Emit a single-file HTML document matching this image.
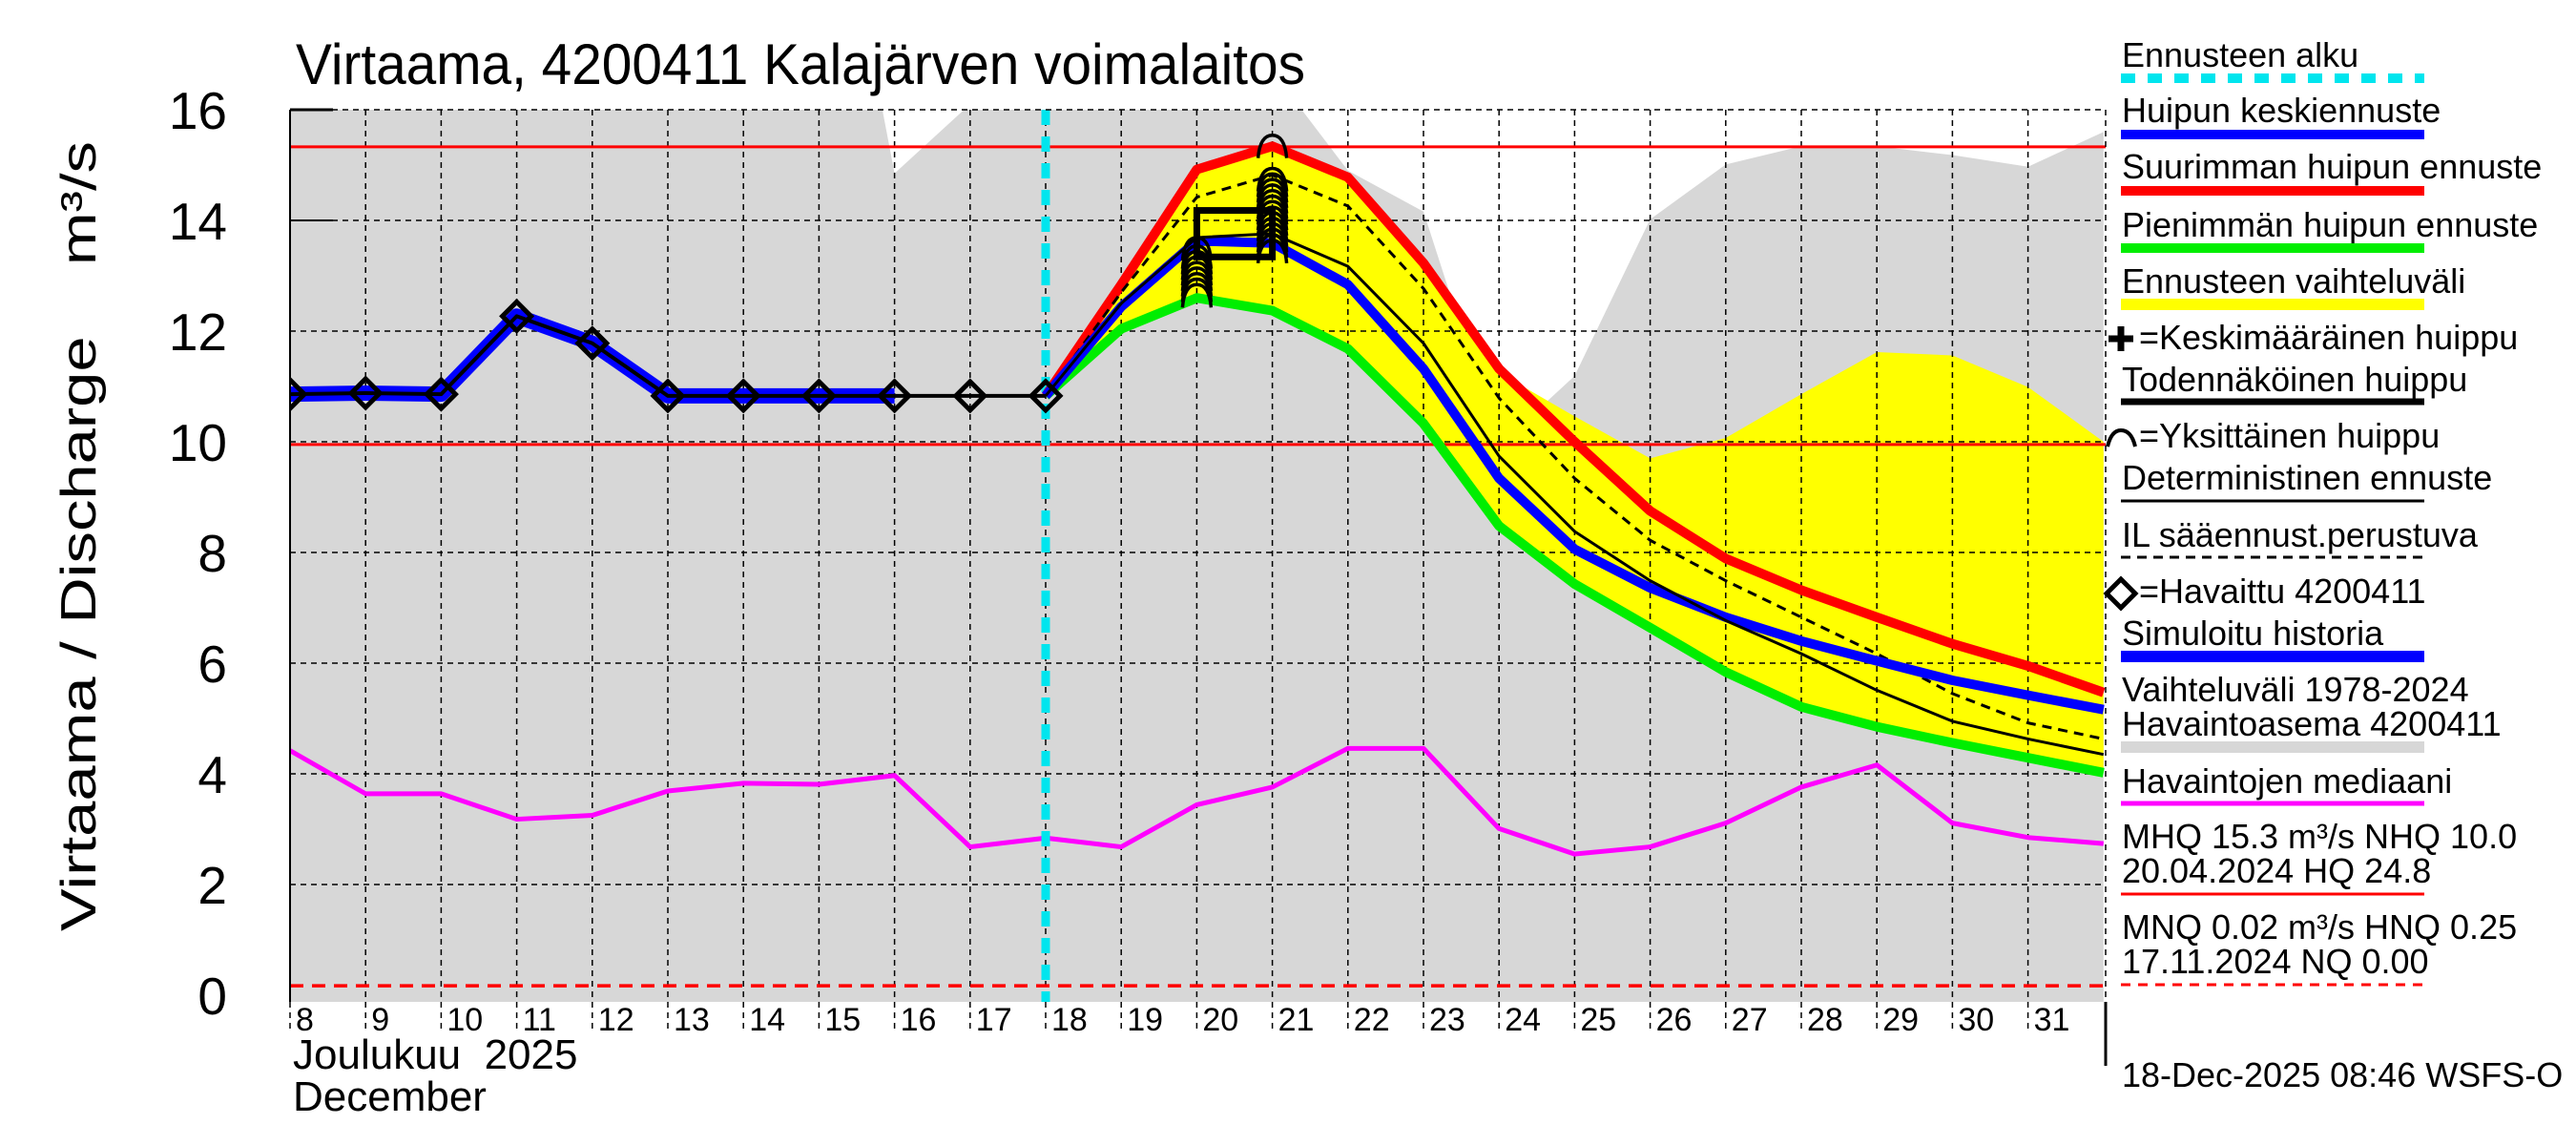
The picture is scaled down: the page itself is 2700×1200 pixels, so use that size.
<!DOCTYPE html>
<html><head><meta charset="utf-8"><style>
html,body{margin:0;padding:0;background:#fff}
svg{display:block}
text{font-family:"Liberation Sans",sans-serif;fill:#000;white-space:pre}
</style></head><body>
<svg id="chart" width="2700" height="1200" viewBox="0 0 2700 1200" xmlns="http://www.w3.org/2000/svg" xml:space="preserve">
<text x="310" y="88" font-size="60" textLength="1058" lengthAdjust="spacingAndGlyphs">Virtaama, 4200411 Kalajärven voimalaitos</text>
<text transform="translate(100,562) rotate(-90)" text-anchor="middle" font-size="52" textLength="828" lengthAdjust="spacingAndGlyphs">Virtaama / Discharge    m³/s</text>
<g id="plot"></g>
<g id="axes"></g>
<g id="legend"></g>
</svg>
<script>
const days = [8,9,10,11,12,13,14,15,16,17,18,19,20,21,22,23,24,25,26,27,28,29,30,31,32];
const yTicks = [0,2,4,6,8,10,12,14,16];
const dayLabels = ["8","9","10","11","12","13","14","15","16","17","18","19","20","21","22","23","24","25","26","27","28","29","30","31"];
const obsDays = [8,9,10,11,12,13,14,15,16,17,18];
const observed = [10.86,10.88,10.86,12.27,11.78,10.83,10.83,10.83,10.83,10.83,10.83];
const simDays = [8,9,10,11,12,13,14,15,16];
const simulated = [10.86,10.88,10.86,12.27,11.78,10.83,10.83,10.83,10.83];
const fcDays = [18,19,20,21,22,23,24,25,26,27,28,29,30,31,32];
const fcMax = [10.83,12.84,14.92,15.34,14.78,13.23,11.32,10.0,8.75,7.89,7.32,6.83,6.35,5.95,5.47];
const fcMean = [10.83,12.44,13.63,13.59,12.84,11.32,9.34,8.06,7.36,6.83,6.40,6.04,5.69,5.42,5.16];
const fcMin = [10.83,12.04,12.60,12.37,11.68,10.33,8.48,7.43,6.64,5.84,5.21,4.85,4.56,4.29,4.02];
const fcDet = [10.83,12.50,13.69,13.76,13.17,11.78,9.74,8.38,7.49,6.77,6.17,5.51,4.95,4.63,4.35];
const fcIL = [10.83,12.70,14.42,14.82,14.26,12.77,10.79,9.34,8.22,7.49,6.83,6.17,5.45,4.92,4.63];
const bandUpper = [10.83,12.84,14.92,15.34,14.78,13.23,11.25,10.46,9.70,10.07,10.86,11.62,11.56,10.99,10.0];
const histDays = [8,9,10,11,12,13,14,15,16,17,18,19,20,21,22,23,24,25,26,27,28,29,30,31,32];
const histUpper = [20,20,20,20,20,20,20,22,14.85,16.1,20,20,20,16.7,14.9,14.16,9.93,11.19,14.02,15.01,15.34,15.34,15.18,14.97,15.6];
const medDays = [8,9,10,11,12,13,14,15,16,17,18,19,20,21,22,23,24,25,26,27,28,29,30,31,32];
const median = [4.42,3.64,3.64,3.18,3.25,3.69,3.83,3.81,3.97,2.68,2.84,2.68,3.44,3.76,4.46,4.46,3.01,2.55,2.68,3.11,3.76,4.16,3.11,2.85,2.74];
const peakDays20 = [20,20,20,20,20,20,20,20,20];
const peaks20 = [12.65,12.75,12.85,12.95,13.05,13.15,13.25,13.35,13.5];
const peakDays21 = [21,21,21,21,21,21,21,21,21,21,21,21,21,21,21];
const peaks21 = [13.45,13.55,13.65,13.75,13.85,13.95,14.05,14.15,14.25,14.35,14.45,14.55,14.65,14.75,15.35];
const boxRange = [20,21,13.34,14.18];
const MHQ = 15.33, NHQ = 9.95, HNQ = 0.17;
const forecastStart = 18;

const NS = "http://www.w3.org/2000/svg";
const L = 304, R = 2207, T = 115, B = 1050;
function xs(d){ return 304 + (d-8)*79.2; }
function ys(v){ return 1043 - v*58; }
function mk(parent, tag, attrs){ const e=document.createElementNS(NS,tag); for(const k in attrs) e.setAttribute(k,attrs[k]); parent.appendChild(e); return e; }
const plot = document.getElementById('plot');
const axes = document.getElementById('axes');
const leg = document.getElementById('legend');

const defs = mk(plot,'defs',{});
const cp = mk(defs,'clipPath',{id:'clip'});
mk(cp,'rect',{x:L,y:T,width:R-L,height:B-T});
const g = mk(plot,'g',{'clip-path':'url(#clip)'});

let bg = mk(g,'rect',{x:L,y:T,width:R-L,height:B-T,fill:'#fff'});



let hp = 'M'+xs(histDays[0])+','+B;
histDays.forEach((d,i)=>{ hp += ' L'+xs(d)+','+ys(histUpper[i]); });
hp += ' L'+xs(histDays[histDays.length-1])+','+B+' Z';
let hist = mk(g,'path',{d:hp,fill:'#d7d7d7'});



let fp = '';
fcDays.forEach((d,i)=>{ fp += (i?' L':'M')+xs(d)+','+ys(bandUpper[i]); });
for(let i=fcDays.length-1;i>=0;i--) fp += ' L'+xs(fcDays[i])+','+ys(fcMin[i]);
fp += ' Z';
let band = mk(g,'path',{d:fp,fill:'#ffff00'});



days.forEach(d=>{ if(d>8 && d<32){ let gl=mk(g,'line',{x1:xs(d),y1:T,x2:xs(d),y2:B,stroke:'#000','stroke-width':1.5,'stroke-dasharray':'6,5'});   }});
yTicks.forEach(v=>{ if(v>0 && v<16){ let gl=mk(g,'line',{x1:L,y1:ys(v),x2:R,y2:ys(v),stroke:'#000','stroke-width':1.5,'stroke-dasharray':'6,5'});   }});

let l1 = mk(g,'line',{x1:L,y1:ys(MHQ),x2:R,y2:ys(MHQ),stroke:'#ff0000','stroke-width':3});
 
let l2 = mk(g,'line',{x1:L,y1:ys(NHQ),x2:R,y2:ys(NHQ),stroke:'#ff0000','stroke-width':3});
 
let l3 = mk(g,'line',{x1:L,y1:ys(HNQ),x2:R,y2:ys(HNQ),stroke:'#ff0000','stroke-width':3.5,'stroke-dasharray':'14,9'});
 

function poly(xd, yd, attrs){ let p=''; xd.forEach((d,i)=>{ p += (i?' L':'M')+xs(d)+','+ys(yd[i]); }); return mk(g,'path',Object.assign({d:p,fill:'none','stroke-linejoin':'round'},attrs)); }

let med = poly(medDays, median, {stroke:'#ff00ff','stroke-width':5});
 

let cy = mk(g,'line',{x1:xs(forecastStart),y1:T,x2:xs(forecastStart),y2:B,stroke:'#00e5ee','stroke-width':9,'stroke-dasharray':'16,12'});
 

let gmin = poly(fcDays, fcMin, {stroke:'#00ee00','stroke-width':10});
 
let gmax = poly(fcDays, fcMax, {stroke:'#ff0000','stroke-width':10});
 
let gil = poly(fcDays, fcIL, {stroke:'#000','stroke-width':3,'stroke-dasharray':'10,7'});
 
let gmean = poly(fcDays, fcMean, {stroke:'#0000ff','stroke-width':10});
 
let gdet = poly(fcDays, fcDet, {stroke:'#000','stroke-width':3});
 

let box = mk(g,'rect',{x:xs(boxRange[0]),y:ys(boxRange[3]),width:xs(boxRange[1])-xs(boxRange[0]),height:ys(boxRange[2])-ys(boxRange[3]),fill:'none',stroke:'#000','stroke-width':7});
 

let gsim = poly(simDays, simulated, {stroke:'#0000ff','stroke-width':16});
 
let gobs = poly(obsDays, observed, {stroke:'#000','stroke-width':4});
 

function arc(d,v){ const x=xs(d), y=ys(v); return mk(g,'path',{d:`M${x-15},${y+13} Q${x-13},${y-11} ${x},${y-11} Q${x+13},${y-11} ${x+15},${y+13}`,fill:'none',stroke:'#000','stroke-width':3.5}); }
peakDays20.forEach((d,i)=>{ const a=arc(d,peaks20[i]);   });
peakDays21.forEach((d,i)=>{ const a=arc(d,peaks21[i]);   });

obsDays.forEach((d,i)=>{ const x=xs(d), y=ys(observed[i]);
  const m=mk(g,'path',{d:`M${x},${y-15} L${x+15},${y} L${x},${y+15} L${x-15},${y} Z`,fill:'none',stroke:'#000','stroke-width':5});
    });

mk(plot,'line',{x1:L,y1:T,x2:R,y2:T,stroke:'#000','stroke-width':1.5,'stroke-dasharray':'6,5'});
mk(plot,'line',{x1:L,y1:T,x2:L,y2:B,stroke:'#000','stroke-width':2});
mk(plot,'line',{x1:L,y1:T,x2:L+45,y2:T,stroke:'#000','stroke-width':3});
mk(plot,'line',{x1:L,y1:ys(14),x2:L+45,y2:ys(14),stroke:'#000','stroke-width':2});
mk(plot,'line',{x1:R,y1:T,x2:R,y2:B,stroke:'#000','stroke-width':1.5,'stroke-dasharray':'6,5'});
mk(plot,'line',{x1:R,y1:B,x2:R,y2:1117,stroke:'#000','stroke-width':3});

yTicks.forEach(v=>{ const t=mk(axes,'text',{x:238,y:ys(v)+20,'text-anchor':'end','font-size':55}); t.textContent=String(v);   });
dayLabels.forEach((s,i)=>{ const d=days[i]; mk(axes,'line',{x1:xs(d),y1:B,x2:xs(d),y2:1082,stroke:'#000','stroke-width':1.5,'stroke-dasharray':'6,5'});
  const t=mk(axes,'text',{x:xs(d)+6,y:1080,'font-size':34}); t.textContent=s;   });
let mt = mk(axes,'text',{x:307,y:1120,'font-size':44}); mt.textContent='Joulukuu  2025';
 
let mt2 = mk(axes,'text',{x:307,y:1164,'font-size':44}); mt2.textContent='December';
 

const LX = 2224, LX2 = 2541;
function ltext(s,y,name,x){ const t=mk(leg,'text',{x:x||LX,y:y,'font-size':36}); t.textContent=s;   return t; }
function lline(y,color,w,dash,name){ const a={x1:LX-1,y1:y,x2:LX2,y2:y,stroke:color,'stroke-width':w}; if(dash) a['stroke-dasharray']=dash; const l=mk(leg,'line',a);   }
ltext('Ennusteen alku',70,'legend-forecast-start'); lline(82,'#00e5ee',10,'15,13','legend-forecast-start-swatch');
ltext('Huipun keskiennuste',128,'legend-mean-peak'); lline(141,'#0000ff',10,null,'legend-mean-peak-swatch');
ltext('Suurimman huipun ennuste',187,'legend-max-peak'); lline(200,'#ff0000',10,null,'legend-max-peak-swatch');
ltext('Pienimmän huipun ennuste',248,'legend-min-peak'); lline(260,'#00ee00',10,null,'legend-min-peak-swatch');
ltext('Ennusteen vaihteluväli',307,'legend-forecast-range'); lline(319,'#ffff00',12,null,'legend-forecast-range-swatch');
mk(leg,'path',{d:'M2210,355 L2236,355 M2223,342 L2223,368',stroke:'#000','stroke-width':7});
ltext('=Keskimääräinen huippu',366,'legend-average-peak',2242);
ltext('Todennäköinen huippu',410,'legend-probable-peak'); lline(421,'#000',7,null,'legend-probable-peak-swatch');
mk(leg,'path',{d:'M2209,468 Q2213,451 2223,451 Q2234,451 2238,468',fill:'none',stroke:'#000','stroke-width':4});
ltext('=Yksittäinen huippu',469,'legend-single-peak',2242);
ltext('Deterministinen ennuste',513,'legend-deterministic'); lline(525,'#000',3,null,'legend-deterministic-swatch');
ltext('IL sääennust.perustuva',573,'legend-il-forecast'); lline(584,'#000',3,'10,7','legend-il-forecast-swatch');
mk(leg,'path',{d:'M2223,607 L2238,622 L2223,637 L2208,622 Z',fill:'none',stroke:'#000','stroke-width':5});
ltext('=Havaittu 4200411',632,'legend-observed',2242);
ltext('Simuloitu historia',676,'legend-simulated'); lline(688,'#0000ff',12,null,'legend-simulated-swatch');
ltext('Vaihteluväli 1978-2024',735,'legend-history-range');
ltext('Havaintoasema 4200411',771,'legend-station'); lline(783,'#d7d7d7',12,null,'legend-history-range-swatch');
ltext('Havaintojen mediaani',831,'legend-median'); lline(842,'#ff00ff',5,null,'legend-median-swatch');
ltext('MHQ 15.3 m³/s NHQ 10.0',889,'legend-mhq');
ltext('20.04.2024 HQ 24.8',925,'legend-hq'); lline(937,'#ff0000',3,null,'legend-mhq-swatch');
ltext('MNQ 0.02 m³/s HNQ 0.25',984,'legend-mnq');
ltext('17.11.2024 NQ 0.00',1020,'legend-nq'); lline(1032,'#ff0000',3,'10,8','legend-hnq-swatch');
ltext('18-Dec-2025 08:46 WSFS-O',1139,'timestamp');
</script>
</body></html>
